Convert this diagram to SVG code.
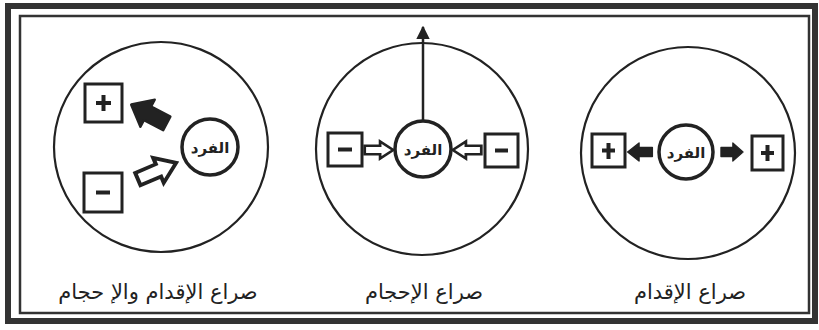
<svg xmlns="http://www.w3.org/2000/svg" width="819" height="330" viewBox="0 0 819 330">
<style>
.big{fill:none;stroke:#222;stroke-width:2.2}
.small{fill:#fff;stroke:#222;stroke-width:3.5}
.box{fill:#fff;stroke:#222;stroke-width:3}
.sign{stroke:#222;stroke-width:4;stroke-linecap:butt;fill:none}
.lbl{font-family:"DejaVu Sans",sans-serif;font-size:21px;fill:#222;text-anchor:middle}
.ind{font-family:"DejaVu Sans",sans-serif;font-size:15px;font-weight:bold;fill:#222;text-anchor:middle}
.fill{fill:#222;stroke:#222;stroke-width:1.5;stroke-linejoin:round}
.open{fill:#fff;stroke:#222;stroke-width:2.5;stroke-linejoin:miter}
</style>
<defs>
<path id="arr" d="M-13,-4.5 L1,-4.5 L1,-9 L13,0 L1,9 L1,4.5 L-13,4.5 Z"/>
<marker id="head" viewBox="0 0 10 10" refX="9" refY="5" markerWidth="5.5" markerHeight="5.5" orient="auto" markerUnits="strokeWidth">
<path d="M0,0 L10,5 L0,10 Z" fill="#222"/>
</marker>
</defs>
<rect width="819" height="330" fill="#fff"/>
<g id="frame">
<rect x="8" y="6" width="807" height="315" fill="none" stroke="#333" stroke-width="6"/>
<rect x="20" y="16" width="789" height="297" fill="none" stroke="#333" stroke-width="2.5"/>
</g>
<g id="approach-avoidance">
<ellipse class="big" cx="161" cy="147" rx="107" ry="105"/>
<circle class="small" cx="210" cy="147" r="28"/>
<text class="ind" x="210" y="153">الفرد</text>
<rect class="box" x="85" y="84" width="37" height="38"/>
<path class="sign" d="M96,103 H111 M103.5,95 V111"/>
<rect class="box" x="84" y="173" width="38" height="39"/>
<path class="sign" d="M96,192.5 H110"/>
<use href="#arr" class="fill" transform="translate(149,114) rotate(207.8) scale(1.55,1.7)"/>
<use href="#arr" class="open" transform="translate(157,171) rotate(-23) scale(1.6,1.5)"/>
<text class="lbl" x="158" y="299">صراع الإقدام والإ حجام</text>
</g>
<g id="avoidance">
<circle class="big" cx="422" cy="149" r="106"/>
<circle class="small" cx="423" cy="149" r="28"/>
<text class="ind" x="423" y="155">الفرد</text>
<rect class="box" x="328" y="133" width="34" height="33"/>
<path class="sign" d="M338,149.5 H352"/>
<rect class="box" x="485" y="134" width="33" height="33"/>
<path class="sign" d="M495,150.5 H508"/>
<use href="#arr" class="open" transform="translate(379,150) scale(1.1,0.95)"/>
<use href="#arr" class="open" transform="translate(467,150) rotate(180) scale(1.1,0.95)"/>
<text class="lbl" x="424" y="299">صراع الإحجام</text>
</g>
<g id="approach">
<ellipse class="big" cx="688" cy="153" rx="107" ry="106"/>
<circle class="small" cx="686" cy="152" r="27" stroke-width="3"/>
<text class="ind" x="686" y="158">الفرد</text>
<rect class="box" x="592" y="134" width="33" height="33"/>
<path class="sign" d="M602,150.5 H615 M608.5,143 V159"/>
<rect class="box" x="752" y="136" width="31" height="34"/>
<path class="sign" d="M761,153 H774 M767.5,145 V161"/>
<use href="#arr" class="fill" transform="translate(640,152) rotate(180) scale(0.95,1.0)"/>
<use href="#arr" class="fill" transform="translate(732,152) scale(0.85,1.0)"/>
<text class="lbl" x="690" y="299">صراع الإقدام</text>
</g>
<g id="connectors">
<line x1="423" y1="121" x2="423" y2="27" stroke="#222" stroke-width="2.5" marker-end="url(#head)"/>
</g>
</svg>
